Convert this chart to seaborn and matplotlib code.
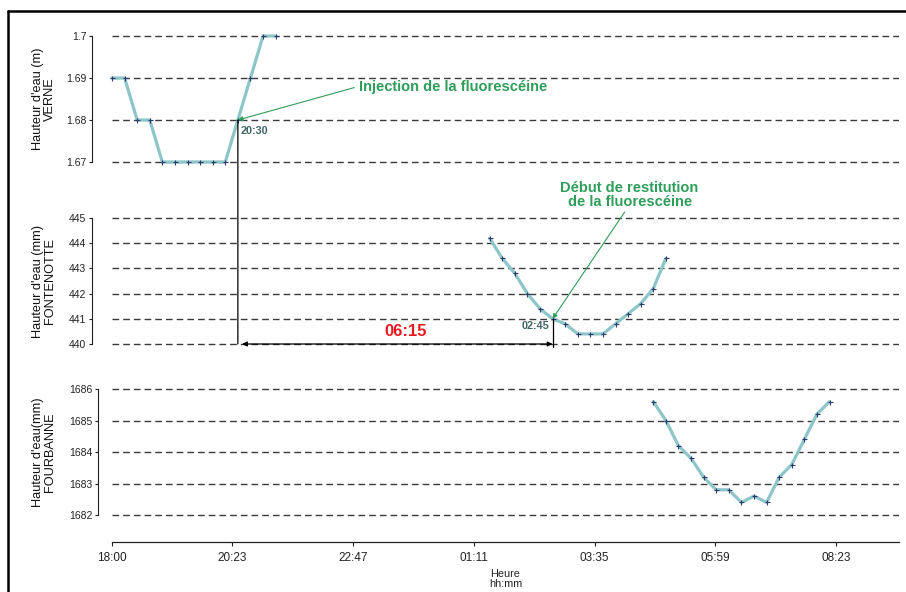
import matplotlib
matplotlib.use("Agg")
import matplotlib.pyplot as plt
import seaborn as sns
from matplotlib.lines import Line2D
from matplotlib.patches import ConnectionPatch
from matplotlib.transforms import blended_transform_factory

# Water levels, one reading every 15 minutes
verne_times = ["18:00", "18:15", "18:30", "18:45", "19:00", "19:15", "19:30",
               "19:45", "20:00", "20:15", "20:30", "20:45", "21:00", "21:15"]
verne_level = [1.69, 1.69, 1.68, 1.68, 1.67, 1.67, 1.67,
               1.67, 1.67, 1.67, 1.68, 1.69, 1.70, 1.70]

fontenotte_times = ["01:30", "01:45", "02:00", "02:15", "02:30", "02:45", "03:00", "03:15",
                    "03:30", "03:45", "04:00", "04:15", "04:30", "04:45", "05:00"]
fontenotte_level = [444.2, 443.4, 442.8, 442.0, 441.4, 441.0, 440.8, 440.4,
                    440.4, 440.4, 440.8, 441.2, 441.6, 442.2, 443.4]

fourbanne_times = ["04:45", "05:00", "05:15", "05:30", "05:45", "06:00", "06:15", "06:30",
                   "06:45", "07:00", "07:15", "07:30", "07:45", "08:00", "08:15"]
fourbanne_level = [1685.6, 1685.0, 1684.2, 1683.8, 1683.2, 1682.8, 1682.8, 1682.4,
                   1682.6, 1682.4, 1683.2, 1683.6, 1684.4, 1685.2, 1685.6]

x_tick_labels = ["18:00", "20:23", "22:47", "01:11", "03:35", "05:59", "08:23"]
verne_ticks = [1.67, 1.68, 1.69, 1.70]
fontenotte_ticks = [440, 441, 442, 443, 444, 445]
fourbanne_ticks = [1682, 1683, 1684, 1685, 1686]

injection_time = "20:30"
restitution_time = "02:45"
delay_label = "06:15"

# colours
LINE = "#8cc6c9"
MARK = "#2d3a6e"
GRID = "#3a3a3a"
GREEN = "#2e9e5a"
SLATE = "#3f6466"
RED = "#e8191f"

W, H = 906, 592
X0, X1 = 112, 899          # pixel extent of the time axis
X_MAX_H = 15.63            # hours after 18:00 at the right end of the axis


def hours_after_start(clock, start="18:00"):
    h, m = map(int, clock.split(":"))
    sh, sm = map(int, start.split(":"))
    return ((h * 60 + m) - (sh * 60 + sm)) % 1440 / 60.0


def add_panel(fig, px_top, px_bot, ticks, tick_px):
    """Axes whose lowest/highest tick sit at the given pixel rows."""
    lo, hi = ticks[0], ticks[-1]
    lo_px, hi_px = tick_px
    per_px = (hi - lo) / (lo_px - hi_px)
    ax = fig.add_axes([X0 / W, 1 - px_bot / H, (X1 - X0) / W, (px_bot - px_top) / H])
    ax.set_ylim(lo - (px_bot - lo_px) * per_px, hi + (hi_px - px_top) * per_px)
    ax.set_xlim(0, X_MAX_H)
    return ax


sns.set_theme(style="white")
plt.rcParams["font.family"] = ["Liberation Sans", "DejaVu Sans"]

fig = plt.figure(figsize=(W / 100, H / 100), dpi=100)

ax_top = add_panel(fig, 28, 170, verne_ticks, (162, 36))
ax_mid = add_panel(fig, 210, 352, fontenotte_ticks, (344, 218))
ax_bot = add_panel(fig, 381, 542, fourbanne_ticks, (515, 389))

panels = [
    (ax_top, verne_times, verne_level, verne_ticks, "Hauteur d'eau (m)\nVERNE", 14.4),
    (ax_mid, fontenotte_times, fontenotte_level, fontenotte_ticks, "Hauteur d'eau (mm)\nFONTENOTTE", 14.4),
    (ax_bot, fourbanne_times, fourbanne_level, fourbanne_ticks, "Hauteur d'eau(mm)\nFOURBANNE", 10.0),
]

for ax, times, level, ticks, label, offset in panels:
    sns.lineplot(x=[hours_after_start(t) for t in times], y=level, ax=ax,
                 color=LINE, lw=2.3, marker="+", markersize=3.6,
                 markeredgecolor=MARK, markeredgewidth=0.8, clip_on=False, zorder=3)
    ax.set_yticks(ticks)
    ax.set_yticklabels([f"{v:g}" for v in ticks])
    ax.grid(False)
    ax.yaxis.grid(True, color=GRID, linestyle=(0, (4.8, 2.9)), linewidth=1.0)
    for side in ["top", "right"]:
        ax.spines[side].set_visible(False)
    ax.spines["left"].set_position(("outward", offset))
    ax.spines["left"].set_bounds(ticks[0], ticks[-1])
    ax.spines["left"].set_color("#222222")
    ax.spines["left"].set_linewidth(0.8)
    ax.tick_params(axis="y", left=True, direction="out", length=2.5, width=0.8,
                   pad=1.5, labelsize=7.5, colors="#222222")
    ax.set_ylabel(label, fontsize=9.2, linespacing=1.0, color="#111111")
    ax.yaxis.set_label_coords(-0.071, (ticks[0] + ticks[-1]) / 2,
                              transform=blended_transform_factory(ax.transAxes, ax.transData))

for ax in [ax_top, ax_mid]:
    ax.spines["bottom"].set_visible(False)
    ax.set_xticks([])

ax_bot.spines["bottom"].set_color("#222222")
ax_bot.spines["bottom"].set_linewidth(0.9)
ax_bot.set_xticks([hours_after_start(t) for t in x_tick_labels])
ax_bot.set_xticklabels(x_tick_labels)
ax_bot.tick_params(axis="x", bottom=True, direction="out", length=3, width=0.8,
                   pad=4, labelsize=8.5, colors="#222222")
ax_bot.set_xlabel("Heure\nhh:mm", fontsize=7.8, linespacing=0.95, color="#222222")
ax_bot.xaxis.set_label_coords(0.5, -0.17)

# injection / restitution markers
t_inj = hours_after_start(injection_time)
t_rest = hours_after_start(restitution_time)
lvl_inj = verne_level[verne_times.index(injection_time)]
lvl_rest = fontenotte_level[fontenotte_times.index(restitution_time)]

fig.add_artist(ConnectionPatch(xyA=(t_inj, lvl_inj), coordsA="data", axesA=ax_top,
                               xyB=(t_inj, fontenotte_ticks[0]), coordsB="data", axesB=ax_mid,
                               color="black", lw=0.9, zorder=4))
ax_mid.plot([t_rest, t_rest], [lvl_rest, fontenotte_ticks[0] - 0.12],
            color="black", lw=0.9, clip_on=False, zorder=4)
ax_mid.annotate("", xy=(t_rest, fontenotte_ticks[0]), xytext=(t_inj, fontenotte_ticks[0]),
                arrowprops=dict(arrowstyle="<|-|>", color="black", lw=0.9,
                                mutation_scale=7, shrinkA=3, shrinkB=0),
                annotation_clip=False)
ax_mid.annotate(delay_label, xy=((t_inj + t_rest) / 2, fontenotte_ticks[0]),
                xytext=(10, 12), textcoords="offset pixels", ha="center", va="center",
                fontsize=12, fontweight="bold", color=RED)

ax_top.annotate(injection_time, xy=(t_inj, lvl_inj), xytext=(3, -11),
                textcoords="offset pixels", ha="left", va="center",
                fontsize=7.8, fontweight="bold", color=SLATE)
ax_mid.annotate(restitution_time, xy=(t_rest, lvl_rest), xytext=(-3, -7),
                textcoords="offset pixels", ha="right", va="center",
                fontsize=7.8, fontweight="bold", color=SLATE)

ax_top.annotate("Injection de la fluorescéine", xy=(t_inj, lvl_inj), xytext=(121, 33),
                textcoords="offset pixels", ha="left", va="center",
                fontsize=10.5, fontweight="bold", color=GREEN, annotation_clip=False,
                arrowprops=dict(arrowstyle="-|>", color=GREEN, lw=0.8, mutation_scale=7,
                                relpos=(0, 0.55), shrinkA=1, shrinkB=0))
ax_mid.annotate("Début de restitution\nde la fluorescéine", xy=(t_rest, lvl_rest),
                xytext=(77, 124), textcoords="offset pixels", ha="center", va="center",
                multialignment="center", linespacing=1.0,
                fontsize=10.5, fontweight="bold", color=GREEN, annotation_clip=False,
                arrowprops=dict(arrowstyle="-|>", color=GREEN, lw=0.8, mutation_scale=7,
                                relpos=(0.48, 0), shrinkA=0, shrinkB=0))

# outer frame (top and left edges only are visible)
fig.add_artist(Line2D([8 / W, 1], [1 - 11 / H] * 2, transform=fig.transFigure,
                      color="black", lw=1.8))
fig.add_artist(Line2D([8 / W] * 2, [0, 1 - 11 / H], transform=fig.transFigure,
                      color="black", lw=1.8))

fig.savefig("out.png", dpi=100, facecolor="white")
